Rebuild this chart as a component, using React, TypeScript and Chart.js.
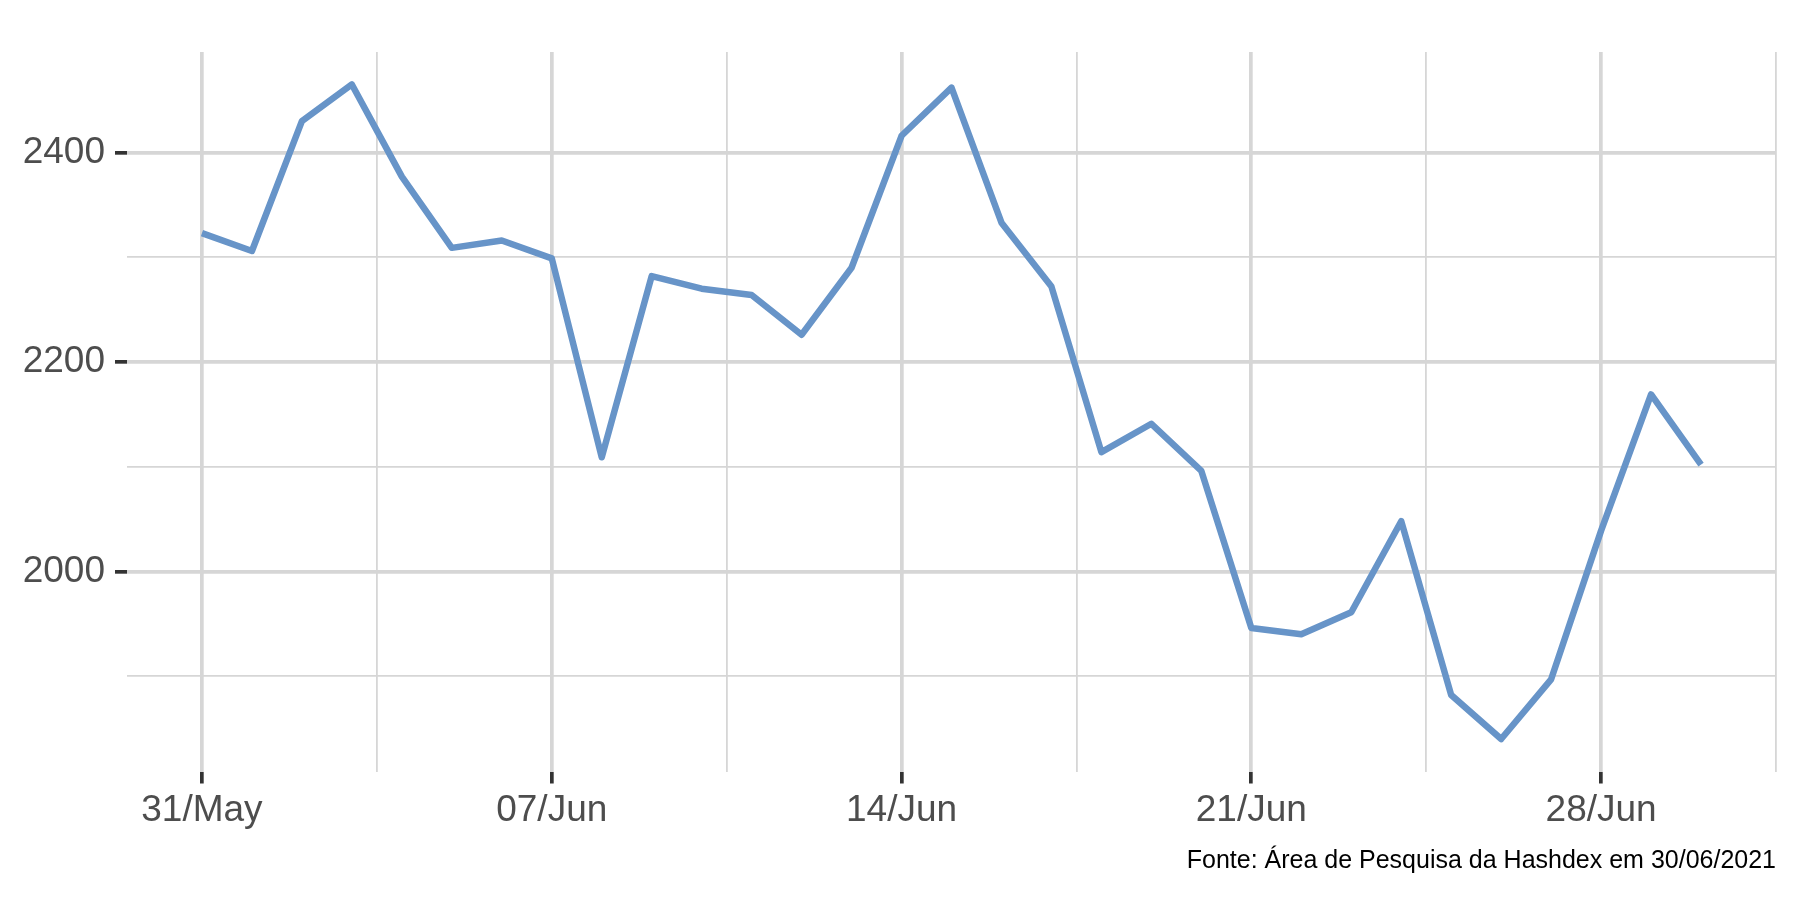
import React, { useEffect, useRef } from "react";
import { Chart, registerables } from "chart.js";

Chart.register(...registerables);

const dates = [
  "31/May", "01/Jun", "02/Jun", "03/Jun", "04/Jun", "05/Jun", "06/Jun",
  "07/Jun", "08/Jun", "09/Jun", "10/Jun", "11/Jun", "12/Jun", "13/Jun",
  "14/Jun", "15/Jun", "16/Jun", "17/Jun", "18/Jun", "19/Jun", "20/Jun",
  "21/Jun", "22/Jun", "23/Jun", "24/Jun", "25/Jun", "26/Jun", "27/Jun",
  "28/Jun", "29/Jun", "30/Jun",
];

const values = [
  2323, 2306, 2430, 2465, 2377, 2309, 2316,
  2299, 2109, 2282, 2270, 2264, 2226, 2290,
  2416, 2462, 2333, 2272, 2114, 2141, 2096,
  1946, 1940, 1961, 2048, 1882, 1840, 1897,
  2039, 2169, 2102,
];

const xTickLabels = ["31/May", "07/Jun", "14/Jun", "21/Jun", "28/Jun"];
const yMajorTicks = [2000, 2200, 2400];
const yMinorTicks = [1900, 2100, 2300];
const caption = "Fonte: Área de Pesquisa da Hashdex em 30/06/2021";

const FONT = '"Liberation Sans", Arial, sans-serif';
const GRID = "#D6D6D6";

export default function App() {
  const ref = useRef<HTMLCanvasElement | null>(null);

  useEffect(() => {
    if (!ref.current) return;
    const xIndex = dates.map((_, i) => i);
    const xMajor = xTickLabels.map((l) => dates.indexOf(l));
    const xMinor = xMajor.map((v) => v + 3.5);
    const data = values.map((v, i) => ({ x: xIndex[i], y: v }));

    const captionPlugin = {
      id: "caption",
      afterDraw(chart: any) {
        const c = chart.ctx;
        c.save();
        c.font = `25px ${FONT}`;
        c.fillStyle = "#000000";
        c.textAlign = "right";
        c.textBaseline = "alphabetic";
        c.fillText(caption, chart.chartArea.right, 868);
        c.restore();
      },
    };

    const chart = new Chart(ref.current, {
      type: "line",
      data: {
        datasets: [
          {
            data,
            borderColor: "#6794C8",
            borderWidth: 6.5,
            pointRadius: 0,
            tension: 0,
            borderJoinStyle: "round",
            fill: false,
          },
        ],
      },
      options: {
        responsive: false,
        animation: false,
        layout: { padding: { top: 52, right: 24, left: 0, bottom: 0 } },
        plugins: { legend: { display: false }, tooltip: { enabled: false } },
        scales: {
          x: {
            type: "linear",
            min: -1.5,
            max: 31.5,
            afterBuildTicks: (scale: any) => {
              const all = [...xMajor, ...xMinor].sort((a, b) => a - b);
              scale.ticks = all.map((v) => ({ value: v }));
            },
            afterFit: (scale: any) => {
              scale.height = 128.5;
            },
            border: { display: false },
            grid: {
              color: GRID,
              lineWidth: (ctx: any) => (xMajor.includes(ctx.tick?.value) ? 3.7 : 1.8),
              tickColor: (ctx: any) => (xMajor.includes(ctx.tick?.value) ? "#333333" : "rgba(0,0,0,0)"),
              tickWidth: 3.7,
              tickLength: 12,
              drawTicks: true,
            },
            ticks: {
              autoSkip: false,
              maxRotation: 0,
              padding: 5,
              color: "#4D4D4D",
              font: { family: FONT, size: 37 },
              callback: (v: any) => {
                const i = xMajor.indexOf(Number(v));
                return i >= 0 ? xTickLabels[i] : "";
              },
            },
          },
          y: {
            type: "linear",
            min: 1809,
            max: 2496,
            afterBuildTicks: (scale: any) => {
              const all = [...yMajorTicks, ...yMinorTicks].sort((a, b) => a - b);
              scale.ticks = all.map((v) => ({ value: v }));
            },
            afterFit: (scale: any) => {
              scale.width = 127;
            },
            border: { display: false },
            grid: {
              color: GRID,
              lineWidth: (ctx: any) => (yMajorTicks.includes(ctx.tick?.value) ? 3.7 : 1.8),
              tickColor: (ctx: any) => (yMajorTicks.includes(ctx.tick?.value) ? "#333333" : "rgba(0,0,0,0)"),
              tickWidth: 3.7,
              tickLength: 12,
              drawTicks: true,
            },
            ticks: {
              autoSkip: false,
              padding: 10,
              color: "#4D4D4D",
              font: { family: FONT, size: 37 },
              callback: (v: any) => (yMajorTicks.includes(Number(v)) ? String(v) : ""),
            },
          },
        },
      },
      plugins: [captionPlugin],
    });

    return () => chart.destroy();
  }, []);

  return (
    <div style={{ position: "absolute", left: 0, top: 0, width: 1800, height: 900, background: "#ffffff" }}>
      <canvas ref={ref} width={1800} height={900} style={{ display: "block" }} />
    </div>
  );
}
